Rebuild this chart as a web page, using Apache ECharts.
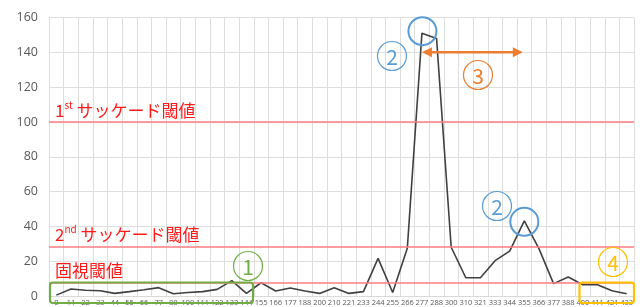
<!DOCTYPE html>
<html><head><meta charset="utf-8">
<script src="https://cdn.jsdelivr.net/npm/echarts@6/dist/echarts.min.js"></script>
<style>html,body{margin:0;padding:0;background:#fff}#c{width:640px;height:307px}</style>
</head><body><div id="c"></div>
<script>
const categories = ['0','11','22','33','44','55','66','77','88','100','111','122','133','144','155','166','177','188','200','210','221','233','244','255','266','277','288','300','310','321','333','344','355','366','377','388','400','411','421','433'];
const values = [0.5,4,3.3,3,1.5,2.5,3.6,4.8,1.3,2,2.5,3.8,8.8,1.5,7.6,2.9,4.6,2.9,1.5,4.8,1.5,2.5,21.6,2,27.4,151,148,28,10.5,10.5,20.3,25.8,43.2,27.2,7.1,10.9,6.5,6.5,3,1.3];
const saccade1 = 100;
const saccade2 = 28.5;
const fixation = 7.8;
const yMin = 0, yMax = 160, yStep = 20;
const peakMain = 25, peakSecond = 32;

const RED = '#ff1a1a', REDLINE = '#ff7c80';
const JP = '"Noto Sans CJK JP", sans-serif';
const chart = echarts.init(document.getElementById('c'), null, {renderer:'canvas'});
const rich = {
  n:{fontSize:17, color:RED, fontFamily:JP, lineHeight:22, verticalAlign:'bottom'},
  s:{fontSize:10, color:RED, fontFamily:JP, lineHeight:12, verticalAlign:'top', padding:[3,0,0,0]}
};
chart.setOption({
  animation:false,
  grid:{left:49, right:6, top:17.5, bottom:11, containLabel:false},
  xAxis:{type:'category', data:categories, boundaryGap:true,
    axisTick:{show:false}, axisLine:{lineStyle:{color:'#d9d9d9', width:1}},
    splitLine:{show:true, interval:0, lineStyle:{color:'#dedede', width:1}},
    axisLabel:{interval:0, fontSize:7.5, margin:3, color:'#595959', fontFamily:'"Open Sans", sans-serif'}},
  yAxis:{type:'value', min:yMin, max:yMax, interval:yStep,
    axisLine:{show:false}, axisTick:{show:false},
    splitLine:{lineStyle:{color:'#dedede', width:1}},
    axisLabel:{fontSize:12.5, margin:11, color:'#595959', fontFamily:'"Open Sans", sans-serif'}},
  series:[{type:'line', data:values, symbol:'none', lineStyle:{color:'#404040', width:1.6}, z:3,
    markLine:{silent:true, symbol:'none', lineStyle:{color:REDLINE, type:'solid', width:1.5},
      data:[
        {yAxis:saccade1, label:{show:true, position:'insideStartTop', distance:[6,3], formatter:'{n|1}{s|st}{n| サッケード閾値}', rich}},
        {yAxis:saccade2, label:{show:true, position:'insideStartTop', distance:[6,3], formatter:'{n|2}{s|nd}{n| サッケード閾値}', rich}},
        {yAxis:fixation, label:{show:true, position:'insideStartTop', distance:[6,3], formatter:'{n|固視閾値}', rich}}
      ]}}]
});

function circled(cx, cy, digit, color){
  return [
    {type:'circle', shape:{cx, cy, r:14.5}, style:{fill:'none', stroke:color, lineWidth:1.2}, z:10},
    {type:'text', x:cx, y:cy+1, style:{text:digit, fill:color, font:'21px "Noto Sans CJK JP"', align:'center', verticalAlign:'middle'}, z:10}
  ];
}
const p1 = chart.convertToPixel({gridIndex:0}, [peakMain, values[peakMain]]);
const p2 = chart.convertToPixel({gridIndex:0}, [peakSecond, values[peakSecond]]);
const ay = chart.convertToPixel({gridIndex:0}, [peakMain, 140])[1];
const ax1 = p1[0], ax2 = chart.convertToPixel({gridIndex:0}, [peakSecond, 140])[0] - 1.5;
const OR = '#ED7D31', BL = '#5B9BD5', GR = '#70AD47', YE = '#FFC000';
const g = [
  {type:'rect', shape:{x:50, y:282.5, width:203, height:20.5, r:3}, style:{fill:'none', stroke:GR, lineWidth:2.2}, z:10},
  ...circled(248, 266, '1', GR),
  {type:'rect', shape:{x:579.5, y:282.5, width:54.5, height:20.5, r:3}, style:{fill:'none', stroke:YE, lineWidth:2.2}, z:10},
  ...circled(613, 262, '4', YE),
  {type:'circle', shape:{cx:p1[0]+0.5, cy:p1[1]-2, r:14}, style:{fill:'none', stroke:BL, lineWidth:2}, z:10},
  ...circled(392, 56, '2', BL),
  {type:'circle', shape:{cx:p2[0], cy:p2[1]+1, r:14}, style:{fill:'none', stroke:BL, lineWidth:2}, z:10},
  ...circled(497, 206, '2', BL),
  {type:'line', shape:{x1:ax1+8, y1:ay, x2:ax2-8, y2:ay}, style:{stroke:OR, lineWidth:2.5}, z:10},
  {type:'polygon', shape:{points:[[ax1,ay],[ax1+10,ay-5],[ax1+10,ay+5]]}, style:{fill:OR}, z:10},
  {type:'polygon', shape:{points:[[ax2,ay],[ax2-10,ay-5],[ax2-10,ay+5]]}, style:{fill:OR}, z:10},
  ...circled(478, 75, '3', OR)
];
chart.setOption({graphic:g});
</script></body></html>
